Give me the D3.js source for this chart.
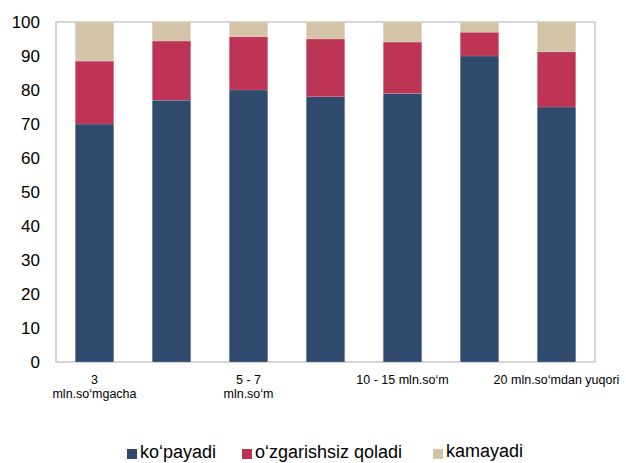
<!DOCTYPE html>
<html><head><meta charset="utf-8">
<script src="https://cdn.jsdelivr.net/npm/d3@7"></script>
<style>body{margin:0;background:#fff}svg{display:block}text{font-family:"Liberation Sans",Arial,sans-serif;fill:#000}</style>
</head><body>
<svg id="c" width="626" height="463"></svg>
<script>
const categories = ["3 mln.so‘mgacha","3 - 5 mln.so‘m","5 - 7 mln.so‘m","7 - 10 mln.so‘m","10 - 15 mln.so‘m","15 - 20 mln.so‘m","20 mln.so‘mdan yuqori"];
const tickLabels = [["3","mln.so‘mgacha"],[],["5 - 7","mln.so‘m"],[],["10 - 15 mln.so‘m"],[],["20 mln.so‘mdan yuqori"]];
const seriesNames = ["ko‘payadi","o‘zgarishsiz qoladi","kamayadi"];
const kopayadi = [70, 77, 80, 78, 79, 90, 75];
const ozgarishsiz = [18.5, 17.4, 15.7, 17, 15.1, 7, 16.2];
const kamayadi = [11.5, 5.6, 4.3, 5, 5.9, 3, 8.8];
const yTicks = [0,10,20,30,40,50,60,70,80,90,100];
const colors = ["#2f4a6d","#be3455","#d5c3a7"];

const svg = d3.select("#c");
const L=56, R=595, T=22, B=362;
const x = d3.scaleBand().domain(categories).range([L,R]).paddingInner(0.5).paddingOuter(0.25);
const y = d3.scaleLinear().domain([0,100]).range([B,T]);

svg.append("rect").attr("x",L).attr("y",T).attr("width",R-L).attr("height",B-T)
  .attr("fill","none").attr("stroke","#c9c9c9").attr("stroke-width",1.5);

const rows = categories.map((c,i)=>({cat:c, s0:kopayadi[i], s1:ozgarishsiz[i], s2:kamayadi[i]}));
const stack = d3.stack().keys(["s0","s1","s2"])(rows);
stack.forEach((layer,k)=>{
  svg.append("g").selectAll("rect").data(layer).join("rect")
    .attr("x",d=>x(d.data.cat)).attr("width",x.bandwidth())
    .attr("y",d=>y(Math.min(d[1],100))).attr("height",d=>y(d[0])-y(Math.min(d[1],100)))
    .attr("fill",colors[k]).attr("stroke","rgba(255,255,255,0.25)").attr("stroke-width",0.5);
});

const yAxis = svg.append("g").attr("transform",`translate(${L},0)`)
  .call(d3.axisLeft(y).tickValues(yTicks).tickSize(0).tickPadding(16));
yAxis.select(".domain").remove();
yAxis.selectAll("text").style("font-size","17px").style("font-family","Liberation Sans, Arial, sans-serif").attr("fill","#000");

const xg = svg.append("g");
categories.forEach((c,i)=>{
  const cx = x(c)+x.bandwidth()/2;
  tickLabels[i].forEach((ln,j)=>xg.append("text").attr("x",cx).attr("y",384+j*14)
    .attr("text-anchor","middle").style("font-size","12.5px").text(ln));
});

const legX = [127, 242, 433];
const lg = svg.append("g");
seriesNames.forEach((n,k)=>{
  lg.append("rect").attr("x",legX[k]).attr("y",449).attr("width",10).attr("height",10).attr("fill",colors[k]);
  lg.append("text").attr("x",legX[k]+13).attr("y",k==2?457:458).style("font-size","18px").text(n);
});
</script>
</body></html>
